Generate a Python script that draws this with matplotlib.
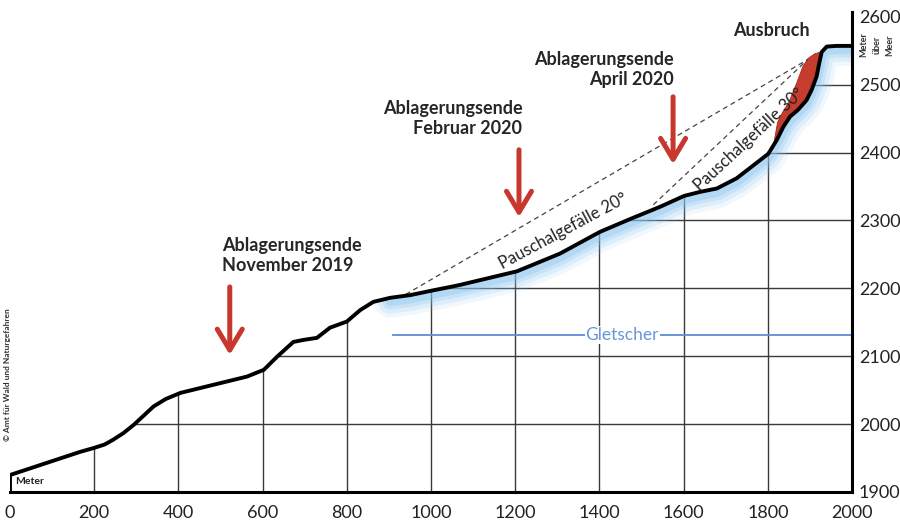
import numpy as np
import matplotlib.pyplot as plt
from matplotlib.patches import Polygon

plt.rcParams['font.family'] = ['Lato', 'DejaVu Sans']

# terrain profile (distance in m, elevation in m a.s.l.)
terrain_x = [0, 0, 166, 200, 225, 245, 270, 294, 341, 370, 405, 484, 563, 603, 634, 673, 697,
             729, 760, 800, 832, 863, 903, 951, 1005, 1046, 1069, 1204, 1306, 1401, 1473, 1544,
             1601, 1639, 1679, 1726, 1801, 1821, 1837, 1853, 1872, 1892, 1904, 1916, 1922,
             1928, 1940, 1963, 2000]
terrain_y = [1900, 1925, 1959, 1965, 1970, 1977, 1987, 1999, 2026, 2037, 2046, 2058, 2070, 2080,
             2099, 2121, 2124, 2127, 2142, 2151, 2168, 2180, 2186, 2190, 2197, 2202, 2205, 2225,
             2251, 2283, 2302, 2320, 2336, 2342, 2347, 2362, 2398, 2418, 2438, 2453, 2463, 2477,
             2492, 2512, 2531, 2548, 2556, 2557, 2557]

# deposit (Ausbruch) upper edge
dep_x = [1812, 1822, 1834, 1850, 1868, 1882, 1894, 1910, 1926]
dep_top = [2410, 2445, 2460, 2476, 2504, 2527, 2539, 2546, 2549]

# Pauschalgefaelle lines
slope20_x = [940, 1895]
slope20_y = [2191, 2537]
slope30_x = [1528, 1895]
slope30_y = [2323, 2537]

glacier_x = [910, 2000]
glacier_y = 2131
glow_start = 890

arrow_x = [522, 1209, 1575]
arrow_top = [2202, 2404, 2482]
arrow_bottom = [2102, 2305, 2383]

labels = ['Ablagerungsende\nNovember 2019', 'Ablagerungsende\nFebruar 2020',
          'Ablagerungsende\nApril 2020']
label_x = [503, 1217, 1576]
label_y = [2248, 2450, 2522]
label_ha = ['left', 'right', 'right']

xticks = np.arange(0, 2001, 200)
yticks = np.arange(1900, 2601, 100)

fig = plt.figure(figsize=(9, 5.26), dpi=100)
ax = fig.add_axes([10/900, 1-492/526, 842/900, 480/526])
ax.set_xlim(0, 2000)
ax.set_ylim(1900, 1900 + 480/0.679)

tx = np.array(terrain_x, float)
ty = np.array(terrain_y, float)

# area under the terrain, used to clip grid and glow
verts = list(zip(tx, ty)) + [(2000, 1900), (0, 1900)]
clip = Polygon(verts, closed=True, transform=ax.transData, facecolor='none', edgecolor='none')
ax.add_patch(clip)

for xv in xticks[1:-1]:
    l = ax.axvline(xv, color='#3a3a3a', lw=1.0, zorder=1)
    l.set_clip_path(clip)
for yv in yticks[1:-1]:
    l = ax.axhline(yv, color='#3a3a3a', lw=1.0, zorder=1)
    l.set_clip_path(clip)

# blue glacier glow below the surface
m = tx >= glow_start
for lw, a in [(24, 0.12), (18, 0.18), (12, 0.25), (7, 0.35)]:
    g, = ax.plot(tx[m], ty[m] - 5, color='#8ac6f0', lw=lw, alpha=a,
                 solid_capstyle='round', solid_joinstyle='round', zorder=2)
    g.set_clip_path(clip)

# glacier line
ax.plot(glacier_x, [glacier_y, glacier_y], color='#5b8ed6', lw=1.3, zorder=2)
ax.text(1454, glacier_y, 'Gletscher', color='#6a95d8', fontsize=12.5, ha='center',
        va='center', zorder=3,
        bbox=dict(facecolor='white', edgecolor='none', pad=0.5))

# deposit
dep_bottom = np.interp(dep_x, tx[1:], ty[1:])
ax.fill_between(dep_x, dep_bottom, dep_top, color='#c63c2e', lw=0.6,
                edgecolor='#a82a20', zorder=3)

# dashed slope lines
ax.plot(slope20_x, slope20_y, color='#444', lw=0.9, ls=(0, (4, 3)), zorder=3)
ax.plot(slope30_x, slope30_y, color='#444', lw=0.9, ls=(0, (4, 3)), zorder=3)

# terrain
ax.plot(tx, ty, color='black', lw=2.8, solid_joinstyle='round', zorder=4)


def disp_angle(xs, ys):
    p = ax.transData.transform(np.column_stack([xs, ys]))
    return np.degrees(np.arctan2(p[1, 1] - p[0, 1], p[1, 0] - p[0, 0]))


ax.text(1314, 2284, 'Pauschalgefälle 20°', rotation=disp_angle(slope20_x, slope20_y) - 2,
        rotation_mode='anchor', ha='center', va='center', fontsize=12, color='#222', zorder=5)
ax.text(1756, 2419, 'Pauschalgefälle 30°', rotation=disp_angle(slope30_x, slope30_y) - 0.5,
        rotation_mode='anchor', ha='center', va='center', fontsize=12, color='#222', zorder=5)

# arrows and labels
for xa, y0, y1 in zip(arrow_x, arrow_top, arrow_bottom):
    ax.annotate('', xy=(xa, y1), xytext=(xa, y0),
                arrowprops=dict(arrowstyle='->,head_length=0.75,head_width=0.45',
                                color='#c8372d', lw=3.6, mutation_scale=20,
                                shrinkA=0, shrinkB=0, capstyle='round'),
                zorder=5)
for t, xl, yl, ha in zip(labels, label_x, label_y, label_ha):
    ax.text(xl, yl, t, ha=ha, va='center', multialignment=ha, fontsize=13,
            fontweight='bold', color='#262626', linespacing=1.25)
ax.text(1808, 2580, 'Ausbruch', ha='center', va='center', fontsize=13,
        fontweight='bold', color='#262626')

# axes styling
for s in ['top', 'left']:
    ax.spines[s].set_visible(False)
ax.spines['bottom'].set_linewidth(2.2)
ax.spines['right'].set_linewidth(2.2)
ax.yaxis.tick_right()
ax.set_xticks(xticks)
ax.set_yticks(yticks)
ax.tick_params(axis='both', length=0, labelsize=13, colors='#222')
ax.tick_params(axis='x', pad=9)
ax.tick_params(axis='y', pad=5)

fig.text(8/900, 1-375/526, '© Amt für Wald und Naturgefahren', rotation=90, fontsize=6,
         ha='center', va='center', color='#333', fontweight='bold')
fig.text(15/900, 1-482/526, 'Meter', fontsize=7.5, ha='left', va='center', color='#222',
         fontweight='bold')
for xp, w in zip([864, 877, 890], ['Meter', 'über', 'Meer']):
    fig.text(xp/900, 1-45/526, w, rotation=90, fontsize=6.5, ha='center', va='center',
             color='#333', fontweight='bold')

fig.savefig('out.png', dpi=100)
